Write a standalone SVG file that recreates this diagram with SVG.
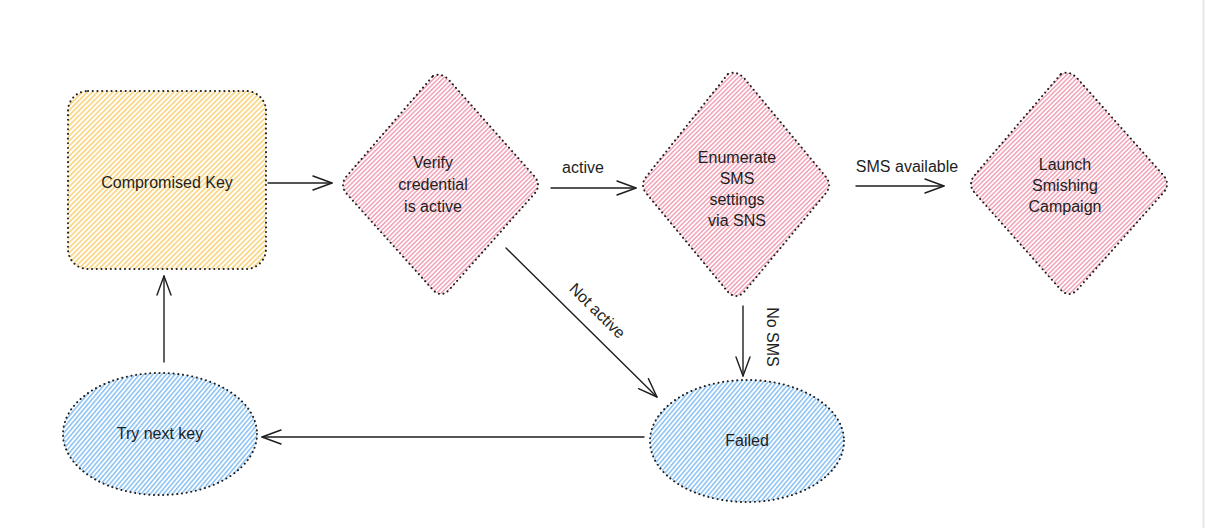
<svg xmlns="http://www.w3.org/2000/svg" width="1206" height="528" viewBox="0 0 1206 528">
<defs>
<pattern id="hY" patternUnits="userSpaceOnUse" width="3.6" height="10" patternTransform="rotate(45)"><line x1="0.9" y1="0" x2="0.9" y2="10" stroke="#f7bf3f" stroke-width="1.1"/></pattern>
<pattern id="hP" patternUnits="userSpaceOnUse" width="3.2" height="10" patternTransform="rotate(45)"><line x1="0.8" y1="0" x2="0.8" y2="10" stroke="#ec7394" stroke-width="1.0"/></pattern>
<pattern id="hB" patternUnits="userSpaceOnUse" width="3.4" height="10" patternTransform="rotate(40)"><line x1="0.8" y1="0" x2="0.8" y2="10" stroke="#4aa0ec" stroke-width="1.0"/></pattern>
<marker id="arr" markerUnits="userSpaceOnUse" markerWidth="24" markerHeight="20" refX="20" refY="8" orient="auto"><path d="M1,1 L20,8 L1,15" fill="none" stroke="#1e1e1e" stroke-width="1.4" stroke-linecap="round" stroke-linejoin="round"/></marker>
</defs>
<style>
.sh{stroke:#1e1e1e;stroke-width:2;stroke-dasharray:0.1 4.6;stroke-linecap:round}
.t{font-family:"Liberation Sans",Arial,sans-serif;font-size:16px;fill:#1e1e1e;text-anchor:middle}
.c{fill:none;stroke:#1e1e1e;stroke-width:1.4;stroke-linecap:round;marker-end:url(#arr)}
</style>
<rect width="1206" height="528" fill="#ffffff"/>
<line x1="1203.5" y1="0" x2="1203.5" y2="528" stroke="#e6e6e6" stroke-width="2"/>
<g id="connectors">
<path class="c" d="M268,183 L332,183"/>
<path class="c" d="M551,188 L636,188"/>
<path class="c" d="M856,186 L944,186"/>
<path class="c" d="M506,248 L657,397"/>
<path class="c" d="M743,306 L743,376"/>
<path class="c" d="M644,437 L262,437"/>
<path class="c" d="M164,362 L164,276"/>
<text class="t" x="583" y="173">active</text>
<text class="t" x="907" y="172">SMS available</text>
<text class="t" transform="translate(597,311) rotate(44.5)" y="5">Not active</text>
<text class="t" transform="translate(772,337) rotate(90)" y="5">No SMS</text>
</g>
<g id="compromised-key">
<rect x="68" y="91" width="198" height="178" rx="20" fill="url(#hY)" class="sh"/>
<text class="t" x="167" y="188">Compromised Key</text>
</g>
<g id="verify-credential">
<path d="M433,76 Q441,72 449,80 L535,177 Q541,185 535,193 L449,290 Q441,298 433,290 L346,193 Q340,185 346,177 Z" fill="url(#hP)" class="sh"/>
<text class="t" x="433" y="168">Verify</text>
<text class="t" x="433" y="190">credential</text>
<text class="t" x="433" y="212">is active</text>
</g>
<g id="enumerate-sms">
<path d="M728,74 Q736,70 744,78 L826,177 Q832,185 826,193 L744,292 Q736,300 728,292 L646,193 Q640,185 646,177 Z" fill="url(#hP)" class="sh"/>
<text class="t" x="737" y="163">Enumerate</text>
<text class="t" x="737" y="184">SMS</text>
<text class="t" x="737" y="205">settings</text>
<text class="t" x="737" y="226">via SNS</text>
</g>
<g id="launch-smishing">
<path d="M1061,74 Q1069,70 1077,78 L1164,176 Q1170,184 1164,192 L1077,290 Q1069,298 1061,290 L974,192 Q968,184 974,176 Z" fill="url(#hP)" class="sh"/>
<text class="t" x="1065" y="170">Launch</text>
<text class="t" x="1065" y="191">Smishing</text>
<text class="t" x="1065" y="212">Campaign</text>
</g>
<g id="failed">
<ellipse cx="747" cy="441" rx="97" ry="61" fill="url(#hB)" class="sh"/>
<text class="t" x="747" y="446">Failed</text>
</g>
<g id="try-next-key">
<ellipse cx="160" cy="434" rx="97" ry="61" fill="url(#hB)" class="sh"/>
<text class="t" x="160" y="439">Try next key</text>
</g>
</svg>
